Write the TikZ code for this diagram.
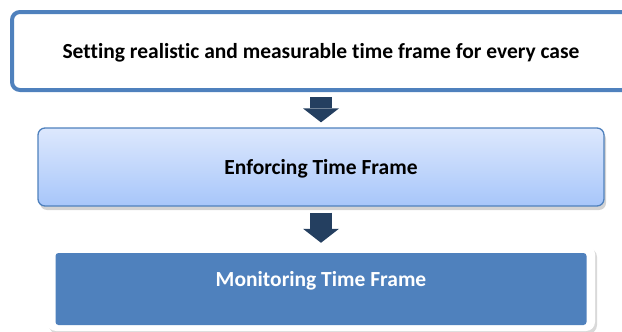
\documentclass[tikz,border=0pt]{standalone}
\usepackage{fontspec}
\setmainfont{Carlito}[Ligatures=NoCommon]
\usetikzlibrary{arrows.meta,shadows}

\definecolor{accent}{HTML}{4F81BD}
\definecolor{navy}{HTML}{243F60}
\definecolor{paletop}{HTML}{DDE8FD}
\definecolor{palebot}{HTML}{A7C6FA}

\begin{document}
\begin{tikzpicture}[x=1pt,y=-1pt,
  every node/.style={font=\fontsize{21.5}{26}\selectfont\bfseries,text depth=0pt},
  framebox/.style={draw=accent,line width=4pt,rounded corners=8pt,fill=white},
  gradbox/.style={draw=accent,line width=1.3pt,rounded corners=7pt,
    top color=paletop,bottom color=palebot,
    drop shadow={shadow xshift=2pt,shadow yshift=-4pt,opacity=.35}},
  plainbox/.style={fill=white,rounded corners=9pt,
    drop shadow={shadow xshift=2pt,shadow yshift=-3pt,opacity=.3}},
  fatarrow/.style={navy,line width=22pt,
    -{Triangle[length=14pt,width=36pt,line width=0pt]}}]

\useasboundingbox (0,0) rectangle (622,332);

% boxes
\node[framebox,minimum width=618pt,minimum height=78pt] (setting) at (321,51)
  {Setting realistic and measurable time frame for every case};
\node[gradbox,minimum width=566pt,minimum height=78pt] (enforce) at (321,167)
  {Enforcing Time Frame};
\node[plainbox,minimum width=548pt,minimum height=86pt] (monbox) at (321,288) {};
\node[fill=accent,rounded corners=3pt,minimum width=531pt,minimum height=72pt] (moninner) at (321,289) {};
\node[white] (monitor) at (321,279) {Monitoring Time Frame};

% block arrows
\draw[fatarrow,shorten <=5pt,shorten >=5pt] (setting.south) -- (enforce.north);
\draw[fatarrow,shorten <=6pt,shorten >=2pt] (enforce.south) -- (monbox.north);

\end{tikzpicture}
\end{document}
